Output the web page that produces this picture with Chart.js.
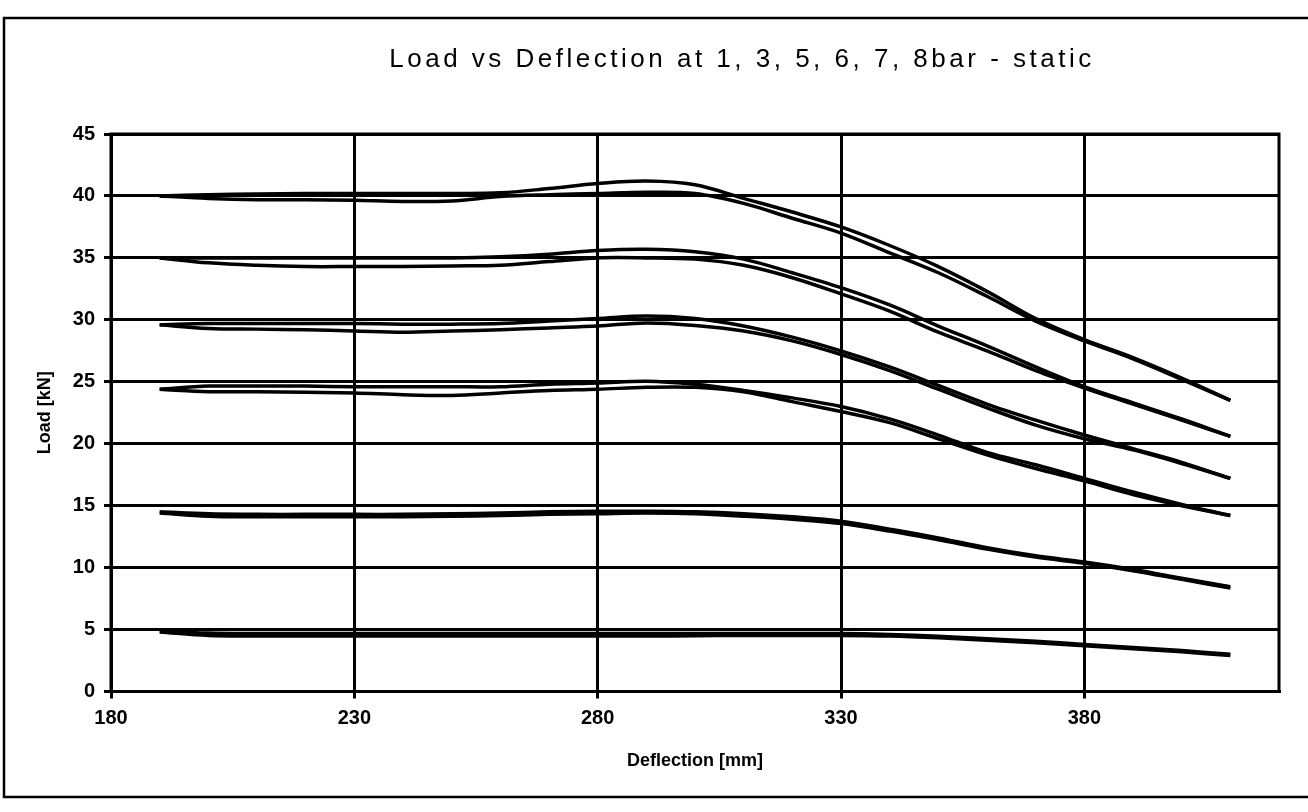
<!DOCTYPE html>
<html><head><meta charset="utf-8">
<script src="https://cdn.jsdelivr.net/npm/chart.js@4/dist/chart.umd.min.js"></script>
<style>html,body{margin:0;padding:0;background:#fff;overflow:hidden}canvas{display:block}</style>
</head><body><canvas id="c" width="1308" height="812"></canvas>
<script>
const titleText = 'Load vs Deflection at 1, 3, 5, 6, 7, 8bar - static';
const xTitle = 'Deflection [mm]';
const yTitle = 'Load [kN]';
const xTickValues = [180, 230, 280, 330, 380];
const deflection = [190,200,210,220,230,240,250,260,270,280,290,300,310,320,330,340,350,360,370,380,390,400,410];

const bar8Upper = [40.0,40.1,40.15,40.2,40.2,40.2,40.2,40.25,40.6,41.0,41.2,40.9,39.8,38.7,37.5,36.0,34.3,32.3,30.1,28.4,26.95,25.3,23.5];
const bar8Lower = [40.0,39.8,39.7,39.7,39.65,39.55,39.6,39.95,40.1,40.2,40.3,40.2,39.4,38.2,37.0,35.4,33.8,31.9,29.9,28.3,26.85,25.2,23.5];
const bar7Upper = [35.0,35.0,35.0,35.0,35.0,35.0,35.0,35.1,35.3,35.6,35.7,35.5,34.9,33.8,32.6,31.2,29.5,27.9,26.2,24.6,23.3,22.0,20.6];
const bar7Lower = [35.0,34.6,34.4,34.3,34.3,34.3,34.35,34.4,34.7,35.0,35.0,34.9,34.4,33.4,32.1,30.7,29.0,27.5,25.9,24.5,23.2,21.9,20.6];
const bar6Upper = [29.6,29.7,29.7,29.7,29.7,29.65,29.65,29.7,29.9,30.1,30.3,30.1,29.5,28.6,27.5,26.2,24.7,23.2,21.9,20.7,19.6,18.5,17.2];
const bar6Lower = [29.6,29.3,29.25,29.2,29.1,29.0,29.1,29.2,29.35,29.5,29.75,29.55,29.1,28.3,27.2,25.9,24.4,22.9,21.5,20.4,19.5,18.4,17.2];
const bar5Upper = [24.4,24.65,24.65,24.65,24.6,24.6,24.6,24.6,24.8,24.9,25.05,24.8,24.3,23.7,23.0,22.0,20.7,19.3,18.3,17.2,16.1,15.1,14.2];
const bar5Lower = [24.4,24.2,24.2,24.15,24.1,23.95,23.9,24.1,24.3,24.4,24.55,24.55,24.2,23.4,22.6,21.7,20.4,19.1,18.0,17.0,15.9,15.0,14.2];
const bar3Upper = [14.5,14.35,14.3,14.3,14.3,14.3,14.35,14.4,14.5,14.55,14.55,14.5,14.35,14.1,13.75,13.1,12.4,11.6,10.95,10.45,9.85,9.15,8.45];
const bar3Lower = [14.4,14.15,14.1,14.1,14.1,14.1,14.15,14.2,14.3,14.35,14.4,14.35,14.15,13.9,13.55,12.95,12.25,11.5,10.85,10.35,9.75,9.05,8.35];
const bar1Upper = [4.9,4.72,4.68,4.68,4.68,4.68,4.68,4.68,4.68,4.68,4.68,4.68,4.68,4.68,4.68,4.6,4.45,4.25,4.05,3.8,3.55,3.3,3.0];
const bar1Lower = [4.8,4.52,4.48,4.48,4.48,4.48,4.48,4.48,4.48,4.48,4.48,4.5,4.52,4.52,4.52,4.47,4.33,4.13,3.93,3.7,3.45,3.2,2.9];

const seriesList = [bar8Upper,bar8Lower,bar7Upper,bar7Lower,bar6Upper,bar6Lower,bar5Upper,bar5Lower,bar3Upper,bar3Lower,bar1Upper,bar1Lower];

const datasets = seriesList.map(s => ({
  data: deflection.map((x, i) => ({x: x, y: s[i]})),
  borderColor: '#000', borderWidth: 3.5, pointRadius: 0, tension: 0.35, fill: false
}));

const frame = {
  id: 'frame',
  beforeDraw(chart) {
    const ctx = chart.ctx;
    ctx.save();
    ctx.fillStyle = '#fff';
    ctx.fillRect(0, 0, chart.width, chart.height);
    ctx.strokeStyle = '#000';
    ctx.lineWidth = 2.5;
    ctx.strokeRect(4, 18, 1330, 779);
    ctx.restore();
  },
  afterDraw(chart) {
    const ctx = chart.ctx, a = chart.chartArea;
    ctx.save();
    ctx.strokeStyle = '#000';
    ctx.lineWidth = 3;
    ctx.strokeRect(a.left, a.top, a.right - a.left, a.bottom - a.top);
    ctx.fillStyle = '#000';
    ctx.font = '26px "Liberation Sans"';
    ctx.letterSpacing = '3.5px';
    ctx.textAlign = 'center';
    ctx.textBaseline = 'middle';
    ctx.fillText(titleText, 742, 60);
    ctx.restore();
  }
};

const tickFont = {family: 'Liberation Sans', size: 20, weight: 'bold'};
const titleFont = {family: 'Liberation Sans', size: 18, weight: 'bold'};

new Chart(document.getElementById('c'), {
  type: 'line',
  data: {datasets},
  plugins: [frame],
  options: {
    responsive: false, animation: false,
    layout: {padding: {left: 0, right: 29, top: 134, bottom: 0}},
    plugins: {legend: {display: false}, tooltip: {enabled: false}, title: {display: false}},
    scales: {
      x: {
        type: 'linear', min: 180, max: 420,
        afterBuildTicks: s => { s.ticks = xTickValues.map(v => ({value: v})); },
        afterFit: s => { s.height = 120.5; },
        grid: {color: '#000', lineWidth: 3, tickLength: 7, tickColor: '#000', tickWidth: 3},
        border: {color: '#000', width: 3},
        ticks: {color: '#000', font: tickFont, padding: 8, maxRotation: 0, autoSkip: false},
        title: {display: true, text: xTitle, color: '#000', font: titleFont, padding: {top: 0, bottom: 40}}
      },
      y: {
        min: 0, max: 45,
        afterFit: s => { s.width = 111; },
        grid: {color: '#000', lineWidth: 3, tickLength: 7, tickColor: '#000', tickWidth: 3},
        border: {color: '#000', width: 3},
        ticks: {stepSize: 5, color: '#000', font: tickFont, padding: 9},
        title: {display: true, text: yTitle, color: '#000', font: titleFont, padding: {top: 34, bottom: 0}}
      }
    }
  }
});
</script></body></html>
